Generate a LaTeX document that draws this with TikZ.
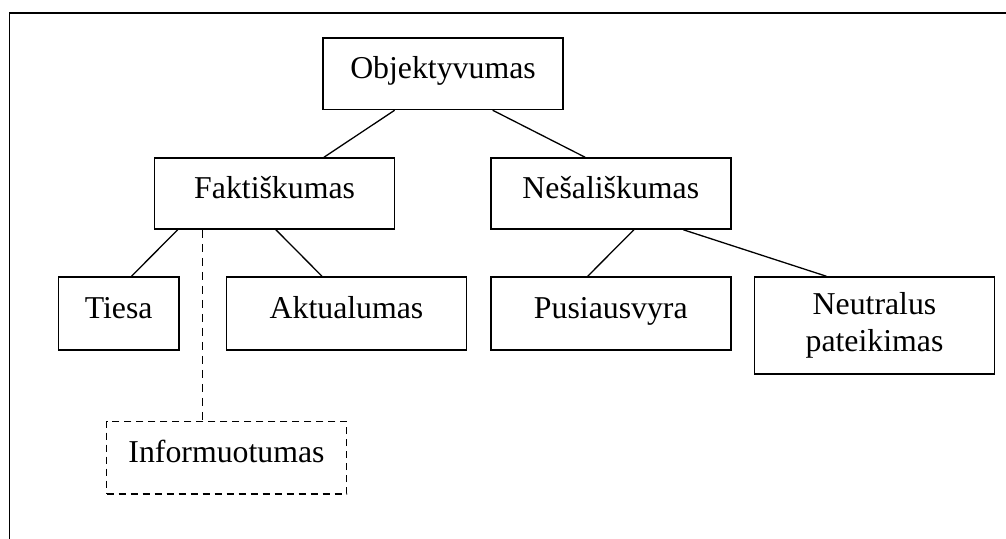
\documentclass[tikz,border=0pt]{standalone}
\usepackage{fontspec}
\setmainfont{Liberation Serif}
\begin{document}
\begin{tikzpicture}[x=1pt,y=-1pt,
  every node/.style={font=\fontsize{31.8}{36}\selectfont},
  concept/.style={draw, line width=1.5pt, inner sep=0pt, text height=20pt, text depth=10pt, align=center},
  optional/.style={concept, dash pattern=on 7pt off 5pt},
  link/.style={line width=1.3pt},
  optlink/.style={line width=1.3pt, dash pattern=on 8pt off 6pt}]
  \useasboundingbox (0,0) rectangle (1006,538);
  % open frame: top and left edges only
  \coordinate (frameTL) at (9.5,12.7);
  \coordinate (frameTR) at (1010,12.7);
  \coordinate (frameBL) at (9.5,545);
  \draw[line width=1.6pt] (frameTR) -- (frameTL) -- (frameBL);

  % concept boxes
  \node[concept, minimum width=240pt, minimum height=71.5pt] (obj) at (443,73.75) {Objektyvumas};
  \node[concept, minimum width=240pt, minimum height=71pt] (fak) at (274.6,193.5) {Faktiškumas};
  \node[concept, minimum width=240pt, minimum height=71pt] (nes) at (610.8,193.5) {Nešališkumas};
  \node[concept, minimum width=120.6pt, minimum height=73pt] (tie) at (118.7,313.5) {Tiesa};
  \node[concept, minimum width=240pt, minimum height=73pt] (akt) at (346.5,313.5) {Aktualumas};
  \node[concept, minimum width=240pt, minimum height=73pt] (pus) at (610.8,313.5) {Pusiausvyra};
  \node[draw, line width=1.5pt, inner sep=0pt, align=center, minimum width=240pt, minimum height=97pt] (neu) at (874.5,325.5) {Neutralus\\[1pt]pateikimas};
  \node[optional, minimum width=240pt, minimum height=72.8pt] (inf) at (226.5,457.8) {Informuotumas};

  % connectors
  \draw[link] ([xshift=-48.4pt]obj.south) -- ([xshift=49.4pt]fak.north);
  \draw[link] ([xshift=49.7pt]obj.south) -- ([xshift=-25.7pt]nes.north);
  \draw[link] ([xshift=-96.9pt]fak.south) -- ([xshift=12.8pt]tie.north);
  \draw[link] ([xshift=1.3pt]fak.south) -- ([xshift=-24.5pt]akt.north);
  \draw[link] ([xshift=23.1pt]nes.south) -- ([xshift=-23.1pt]pus.north);
  \draw[link] ([xshift=72.5pt]nes.south) -- ([xshift=-48.1pt]neu.north);
  \coordinate (fakdrop) at ([xshift=-71.9pt]fak.south);
  \draw[optlink] (fakdrop) -- (fakdrop |- inf.north);
\end{tikzpicture}
\end{document}
